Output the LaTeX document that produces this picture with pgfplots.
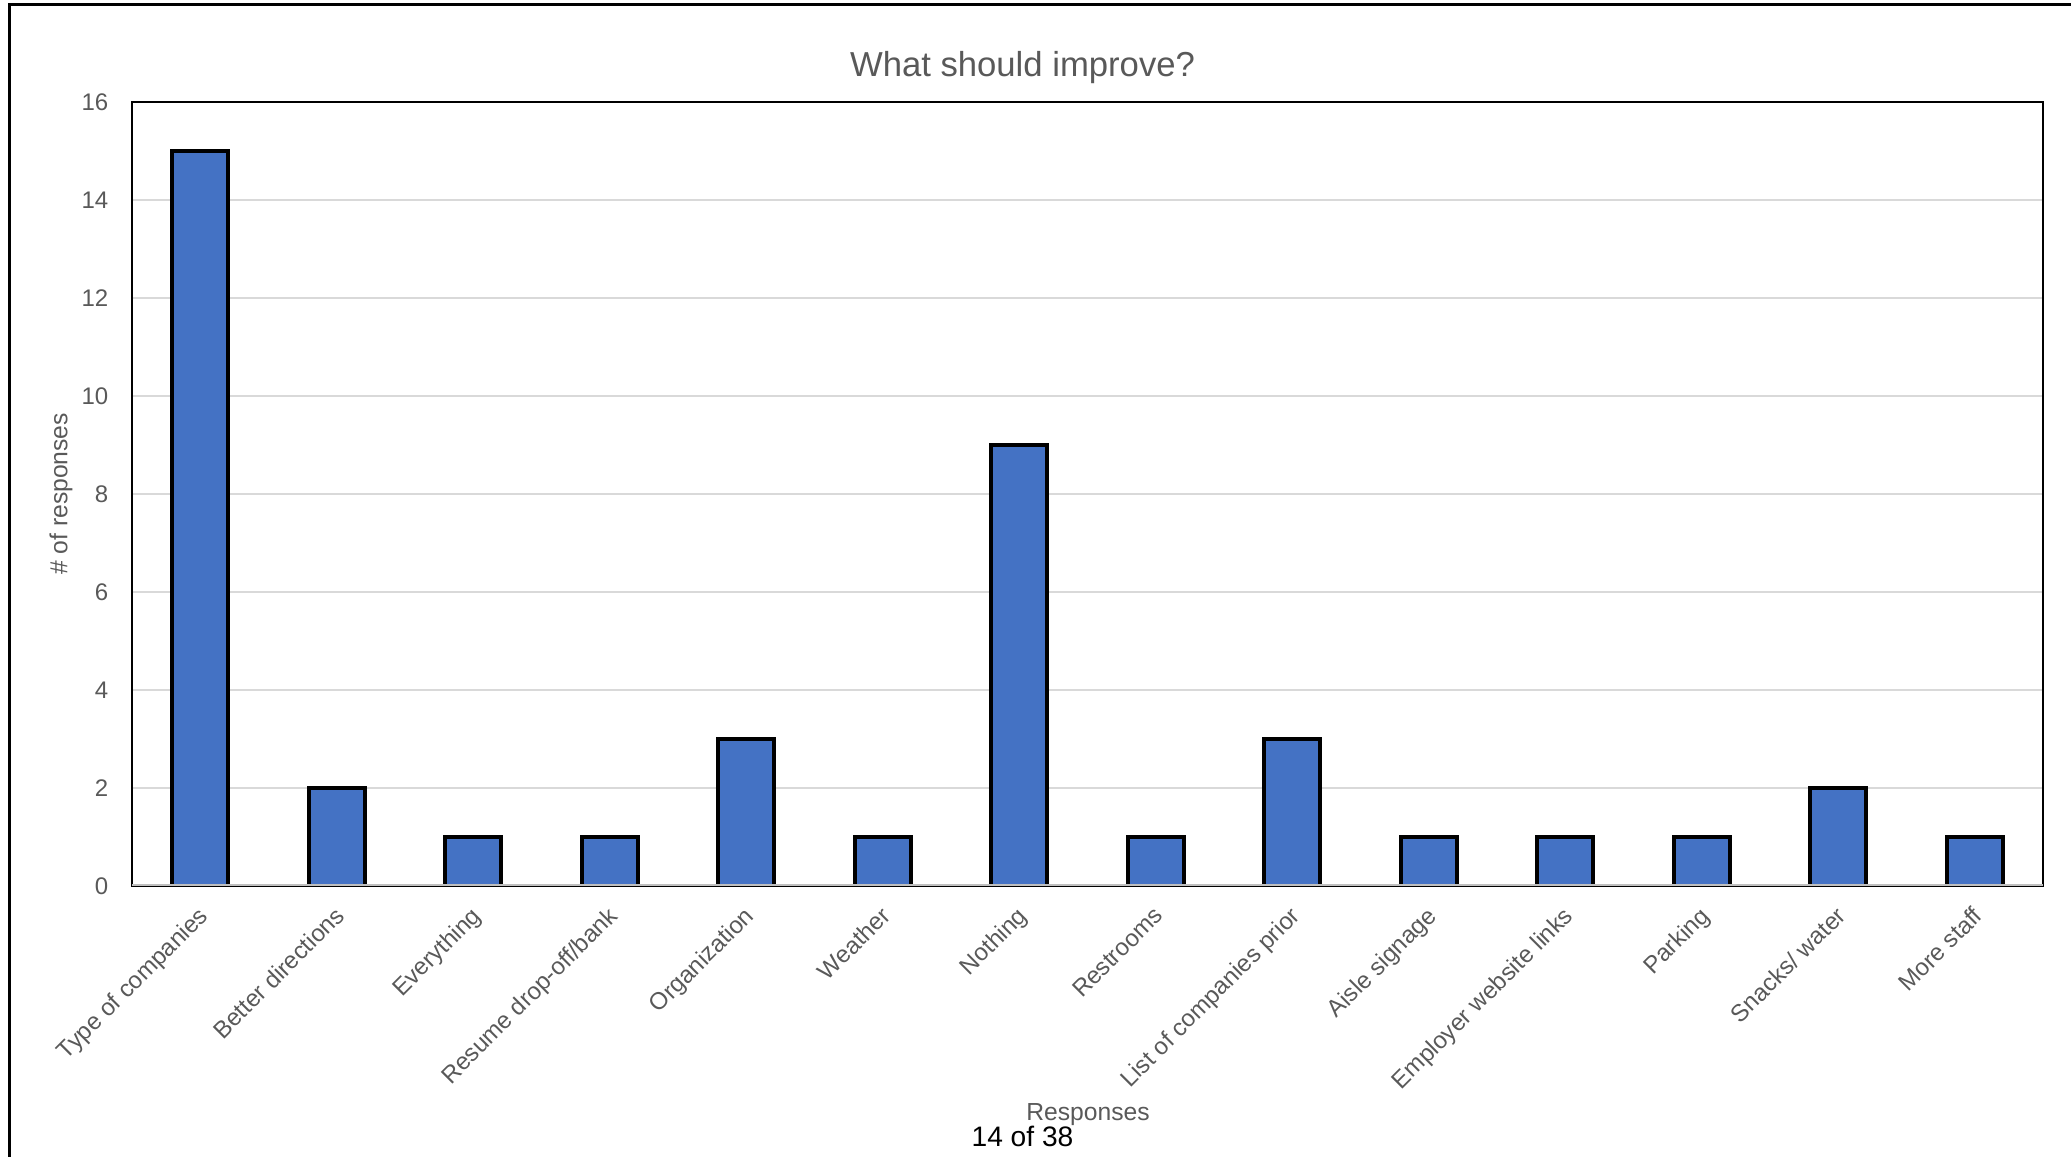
\documentclass[border=0pt]{standalone}
\usepackage{pgfplots}
\pgfplotsset{compat=1.18}
\usepackage{fontspec}
\setmainfont{Liberation Sans}
\definecolor{barblue}{HTML}{4472C4}
\definecolor{txtgray}{HTML}{595959}
\definecolor{gridgray}{HTML}{D9D9D9}
\definecolor{basegray}{HTML}{BFBFBF}
\begin{document}
\begin{tikzpicture}
\useasboundingbox (0,0) rectangle (621.3pt,347.1pt);
\draw[line width=0.9pt] (2.7pt,-2pt) -- (2.7pt,345.6pt) -- (625pt,345.6pt);
\begin{axis}[
  at={(39.6pt,81.3pt)}, anchor=south west,
  scale only axis, width=573.3pt, height=235.2pt,
  ybar, bar width=0.41,
  xmin=-0.5, xmax=13.5, ymin=0, ymax=16,
  ytick={0,2,...,16},
  xtick={0,...,13},
  xticklabels={Type of companies,Better directions,Everything,Resume drop-off/bank,Organization,Weather,Nothing,Restrooms,List of companies prior,Aisle signage,Employer website links,Parking,Snacks/ water,More staff},
  major tick length=0pt,
  ymajorgrids, grid style={gridgray, line width=0.5pt},
  axis line style={black, line width=0.6pt},
  /pgf/number format/assume math mode=true,
  tick label style={font=\fontsize{7.2}{8}\selectfont, text=txtgray},
  yticklabel style={inner sep=0pt, xshift=-6.9pt},
  xticklabel style={inner sep=0pt, xshift=-1pt, yshift=-5.5pt, rotate=45, anchor=north east},
  ylabel={\# of responses},
  ylabel style={at={(axis description cs:-0.0372,0.5)}, anchor=center, font=\fontsize{7.4}{9}\selectfont, text=txtgray},
  xlabel={Responses},
  xlabel style={at={(axis description cs:0.5003,-0.2997)}, anchor=base, font=\fontsize{7.4}{9}\selectfont, text=txtgray},
]
\addplot[fill=barblue, draw=black, line width=1.1pt] coordinates {
 (0,15) (1,2) (2,1) (3,1) (4,3) (5,1) (6,9) (7,1) (8,3) (9,1) (10,1) (11,1) (12,2) (13,1)
};
\draw[basegray, line width=1pt] (rel axis cs:0,0) -- (rel axis cs:1,0);
\end{axis}
\node[anchor=base, text=txtgray, font=\fontsize{10.4}{12}\selectfont] at (306.75pt,324pt) {What should improve?};
\node[anchor=base, text=black, font=\fontsize{8.45}{10}\selectfont, inner sep=0pt] at (306.75pt,3pt) {14 of 38};
\end{tikzpicture}
\end{document}
